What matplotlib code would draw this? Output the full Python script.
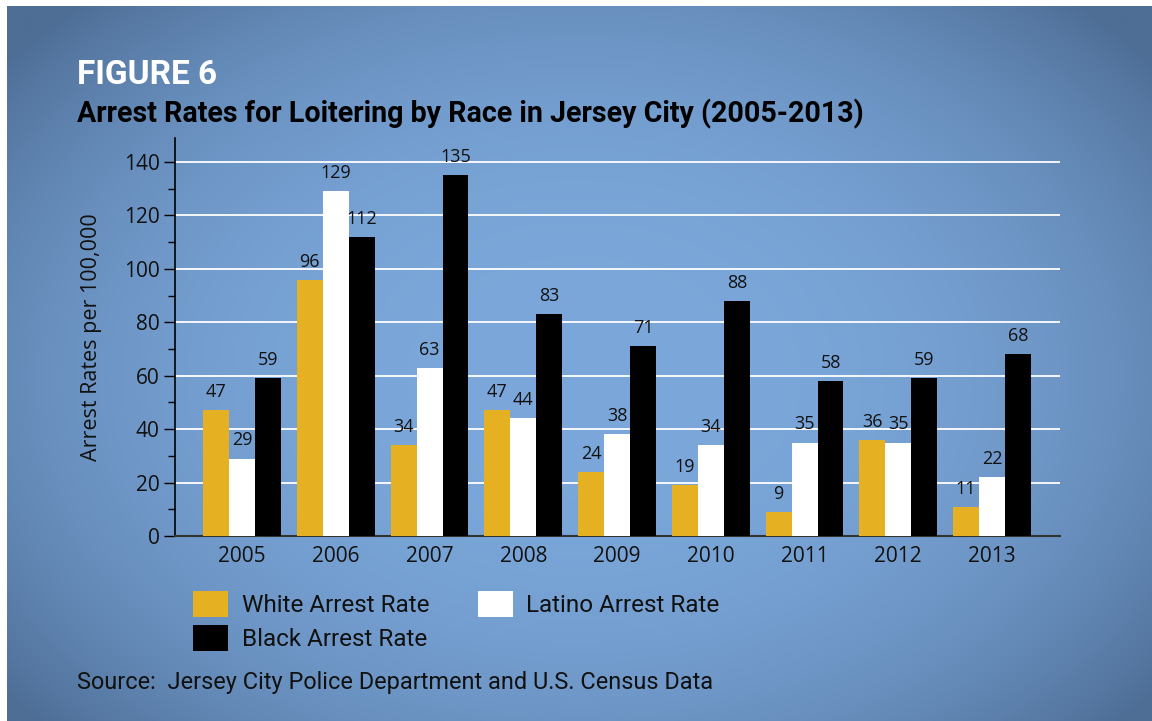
import matplotlib.pyplot as plt
import numpy as np
from matplotlib.colors import to_rgb

YEARS = ["2005", "2006", "2007", "2008", "2009", "2010", "2011", "2012", "2013"]
WHITE_RATE = [47, 96, 34, 47, 24, 19, 9, 36, 11]
LATINO_RATE = [29, 129, 63, 44, 38, 34, 35, 35, 22]
BLACK_RATE = [59, 112, 135, 83, 71, 88, 58, 59, 68]

SERIES_LABELS = ["White Arrest Rate", "Latino Arrest Rate", "Black Arrest Rate"]
SERIES_COLORS = ["#e5b122", "#ffffff", "#000000"]

HEAD_FONT = "Roboto"
BODY_FONT = "Open Sans"

W, H = 1152, 721


def draw_background(fig):
    # soft radial blue panel with a thin white margin top/left
    x0, top = 7 / W, 1 - 6 / H
    bg = fig.add_axes([x0, 0, 1 - x0, top], zorder=0)
    bg.set_axis_off()
    nx, ny = 400, 260
    xx, yy = np.meshgrid(np.linspace(0, 1, nx), np.linspace(0, 1, ny))
    r = np.sqrt(((xx - 0.5) / 0.64) ** 2 + ((yy - 0.52) / 0.72) ** 2)
    t = np.clip(r, 0, 1) ** 2.8
    inner = np.array(to_rgb("#7ba7da"))
    outer = np.array(to_rgb("#4e6e96"))
    img = inner[None, None, :] * (1 - t[..., None]) + outer[None, None, :] * t[..., None]
    bg.imshow(img, aspect="auto", extent=(0, 1, 0, 1), interpolation="bilinear")


def main() -> None:
    fig = plt.figure(figsize=(W / 100, H / 100), dpi=100)
    fig.patch.set_facecolor("white")
    draw_background(fig)

    left, right = 175 / W, 1060 / W
    bottom, top = 1 - 536 / H, 1 - 138 / H
    ax = fig.add_axes([left, bottom, right - left, top - bottom], zorder=2)
    ax.patch.set_alpha(0)

    x = np.arange(len(YEARS))
    width = 0.277
    series = [WHITE_RATE, LATINO_RATE, BLACK_RATE]
    handles = []
    for i, (vals, color, label) in enumerate(zip(series, SERIES_COLORS, SERIES_LABELS)):
        bars = ax.bar(x + (i - 1) * width, vals, width=width, color=color,
                      label=label, zorder=3, linewidth=0)
        handles.append(bars)
        for b, v in zip(bars, vals):
            ax.annotate(str(v), (b.get_x() + b.get_width() / 2, v),
                        xytext=(0, 13), textcoords="offset points",
                        ha="center", va="center", fontsize=13,
                        family=BODY_FONT, color="#111111", zorder=4)

    ax.set_xlim(-0.715, 8.725)
    ax.set_ylim(0, 149)
    ax.set_yticks(np.arange(0, 141, 20))
    ax.set_yticks(np.arange(10, 141, 20), minor=True)
    for g in np.arange(20, 141, 20):
        ax.axhline(g, color="white", linewidth=1.3, zorder=1)

    ax.set_xticks(x)
    ax.set_xticklabels(YEARS)
    ax.tick_params(axis="x", length=0, pad=7, labelsize=15)
    ax.tick_params(axis="y", which="major", length=8, width=1, labelsize=15, pad=3)
    ax.tick_params(axis="y", which="minor", length=5, width=1)
    for lbl in ax.get_xticklabels() + ax.get_yticklabels():
        lbl.set_family(BODY_FONT)
        lbl.set_color("#111111")

    for side in ("top", "right"):
        ax.spines[side].set_visible(False)
    ax.spines["left"].set_linewidth(1.2)
    ax.spines["bottom"].set_linewidth(1.5)
    ax.spines["bottom"].set_color("#333333")
    ax.set_ylabel("Arrest Rates per 100,000", fontsize=15.5, family=BODY_FONT,
                  color="#111111", labelpad=16)

    fig.text(77 / W, 1 - 75 / H, "FIGURE 6", fontsize=24, fontweight="bold",
             family=HEAD_FONT, color="white", va="center", ha="left")
    fig.text(77 / W, 1 - 114 / H, "Arrest Rates for Loitering by Race in Jersey City (2005-2013)",
             fontsize=20.6, fontweight="bold", family=HEAD_FONT, color="black",
             va="center", ha="left")

    leg = fig.legend([handles[0], handles[2], handles[1]],
                     [SERIES_LABELS[0], SERIES_LABELS[2], SERIES_LABELS[1]],
                     loc="upper left", bbox_to_anchor=(193 / W, 1 - 591 / H),
                     ncol=2, frameon=False, borderpad=0, borderaxespad=0,
                     handlelength=1.45, handleheight=1.3, handletextpad=0.55,
                     columnspacing=2.0, labelspacing=0.3,
                     prop={"family": HEAD_FONT, "size": 17.5})
    for t in leg.get_texts():
        t.set_color("#111111")

    fig.text(77 / W, 1 - 683 / H, "Source:  Jersey City Police Department and U.S. Census Data",
             fontsize=16.9, family=HEAD_FONT, color="#111111", va="center", ha="left")

    fig.savefig("out.png", dpi=100)
    plt.close(fig)


if __name__ == "__main__":
    main()
